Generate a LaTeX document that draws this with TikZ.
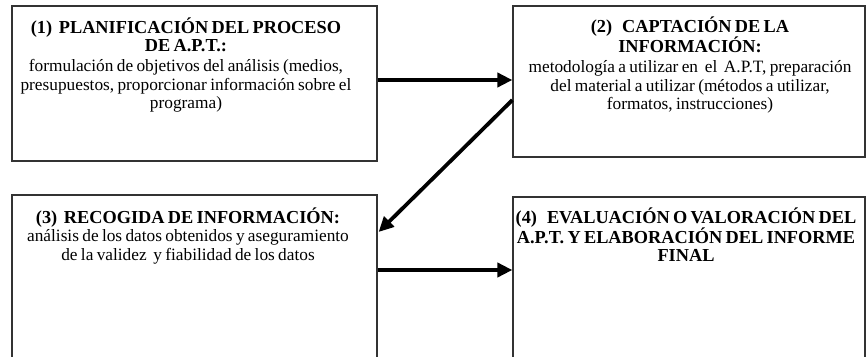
\documentclass[tikz,border=0pt]{standalone}
\usepackage{fontspec}
\setmainfont{Liberation Serif}
\usetikzlibrary{arrows.meta}
\tikzstyle{stage} = [rectangle, draw=black!80, line width=1.2pt, inner sep=0pt]
\tikzstyle{stagetext} = [anchor=base, text width=362pt, align=center, inner sep=0pt]
\tikzstyle{link} = [draw, line width=3.8pt, -{Triangle[length=15pt,width=14pt]}]
\newcommand{\hdr}{\fontsize{18.3}{18.3}\selectfont\bfseries}
\newcommand{\bdy}{\fontsize{17.3}{18.6}\selectfont}

\begin{document}
\begin{tikzpicture}[x=1pt,y=-1pt]
                \useasboundingbox (0,0) rectangle (867,356);
                \node [stage, minimum width=365pt, minimum height=155pt] at (194.5,83.5) (planif) {};
                \node [stage, minimum width=352pt, minimum height=151pt] at (689,81.5) (captac) {};
                \node [stage, minimum width=365pt, minimum height=185pt] at (194.5,287.5) (recog) {};
                \node [stage, minimum width=352pt, minimum height=183pt] at (689,288.5) (evalua) {};
                \node [stagetext] at (186,33) (planiftxt) {{\hdr (1)\ \ PLANIFICACIÓN DEL PROCESO\\ DE A.P.T.:\par}\vspace{1.5pt}
                    \bdy formulación de objetivos del análisis (medios,\\ presupuestos, proporcionar información sobre el\\ programa)\par};
                \node [stagetext] at (690,32) (captactxt) {{\hdr (2)\ \ \ CAPTACIÓN DE LA\\ INFORMACIÓN:\par}\vspace{1.5pt}
                    \bdy metodología a utilizar en\ \ el\ \ A.P.T, preparación\\ del material a utilizar (métodos a utilizar,\\ formatos, instrucciones)\par};
                \node [stagetext] at (188,223) (recogtxt) {{\hdr (3)\ \ RECOGIDA DE INFORMACIÓN:\par}
                    \bdy análisis de los datos obtenidos y aseguramiento\\ de la validez\ \ y fiabilidad de los datos\par};
                \node [stagetext] at (686,223) (evaluatxt) {{\hdr (4)\ \ \ EVALUACIÓN O VALORACIÓN DEL\\ A.P.T. Y ELABORACIÓN DEL INFORME\\ FINAL\par}};
                \path [link] ([yshift=3.5pt]planif.east) -- ([yshift=3.5pt]planif.east -| captac.west);
                \path [link] ([yshift=-18.5pt]captac.west) -- ([yshift=55.5pt,xshift=1pt]recog.east);
                \path [link] ([yshift=17.5pt]recog.east) -- ([yshift=17.5pt]recog.east -| evalua.west);
\end{tikzpicture}
\end{document}
